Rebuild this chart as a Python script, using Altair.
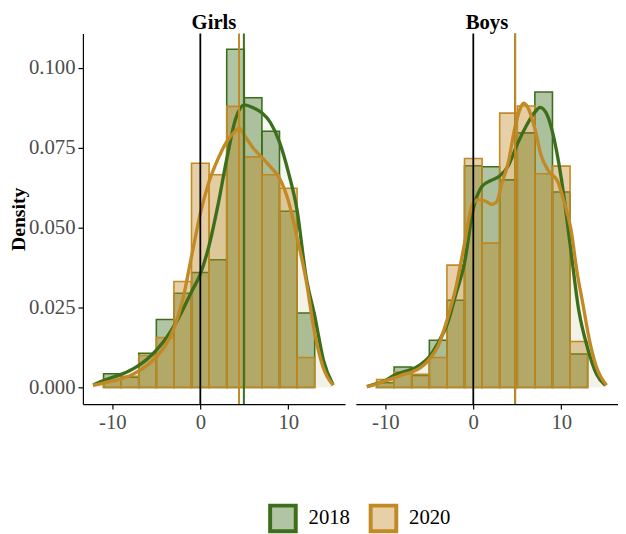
import altair as alt
import pandas as pd

# ---------------- data ----------------
panels = ["Girls", "Boys"]
years = ["2018", "2020"]
dark_colors = ["#3D6E1C", "#C28A25"]
light_colors = ["#B1C5A4", "#E7D0A8"]   # the dark colours at 40 % on white (legend swatches)

bin_starts = [-11, -9, -7, -5, -3, -1, 1, 3, 5, 7, 9, 11]
bin_ends = [-9, -7, -5, -3, -1, 1, 3, 5, 7, 9, 11, 13]

girls_hist_2018 = [0.0043, 0.0032, 0.0107, 0.0213, 0.0295, 0.0360, 0.0400, 0.1059, 0.0907, 0.0802, 0.0552, 0.0233]
girls_hist_2020 = [0.0025, 0.0035, 0.0100, 0.0156, 0.0332, 0.0702, 0.0666, 0.0880, 0.0722, 0.0666, 0.0624, 0.0094]
boys_hist_2018 = [0.0015, 0.0064, 0.0038, 0.0148, 0.0273, 0.0694, 0.0691, 0.0650, 0.0797, 0.0925, 0.0612, 0.0105]
boys_hist_2020 = [0.0025, 0.0048, 0.0041, 0.0094, 0.0383, 0.0717, 0.0452, 0.0859, 0.0881, 0.0669, 0.0693, 0.0144]

girls_dens_2018_x = [-12.2, -11, -10, -9, -8, -7, -6, -5, -4, -3, -2, -1, 0, 1, 2, 3, 4, 5, 6, 7, 8, 9, 10, 11, 12, 13, 14, 15.1]
girls_dens_2018_y = [0.0008, 0.0022, 0.0032, 0.0041, 0.0053, 0.0069, 0.0090, 0.0117, 0.0150, 0.0192, 0.0243, 0.0300, 0.0355,
                     0.0445, 0.0570, 0.0715, 0.0840, 0.0885, 0.0876, 0.0860, 0.0828, 0.0768, 0.0675, 0.0555, 0.0350,
                     0.0225, 0.0085, 0.0008]
girls_dens_2020_x = [-12.2, -11, -10, -9, -8, -7, -6, -5, -4, -3, -2, -1, 0, 1, 2, 3, 4, 4.4, 5, 6, 7, 8, 9, 10, 11, 12, 13, 14, 15.1]
girls_dens_2020_y = [0.0007, 0.0014, 0.0020, 0.0027, 0.0037, 0.0052, 0.0070, 0.0096, 0.0130, 0.0185, 0.0275, 0.0410, 0.0545,
                     0.0645, 0.0715, 0.0770, 0.0803, 0.0812, 0.0790, 0.0750, 0.0720, 0.0690, 0.0655, 0.0585, 0.0470,
                     0.0340, 0.0170, 0.0060, 0.0007]
boys_dens_2018_x = [-12.1, -11, -10, -9, -8, -7, -6, -5, -4, -3, -2, -1, 0, 1, 2, 3, 4, 5, 6, 7, 7.6, 8.4, 9, 10, 11, 12, 13, 14, 15]
boys_dens_2018_y = [0.0003, 0.0012, 0.0022, 0.0038, 0.0048, 0.0057, 0.0072, 0.0096, 0.0140, 0.0196, 0.0290, 0.0390, 0.0560,
                    0.0630, 0.0648, 0.0662, 0.0695, 0.0762, 0.0818, 0.0862, 0.0877, 0.0853, 0.0800, 0.0655, 0.0450,
                    0.0240, 0.0123, 0.0042, 0.0007]
boys_dens_2020_x = [-12.1, -11, -10, -9, -8, -7, -6, -5, -4, -3, -2, -1, -0.1, 0.6, 1.4, 2.1, 2.7, 3.2, 4, 4.7, 5.3, 5.7, 6.2,
                    7, 7.7, 8.6, 9.6, 10.3, 11.1, 11.8, 12.4, 13.3, 14, 15.15]
boys_dens_2020_y = [0.0003, 0.0011, 0.0021, 0.0030, 0.0040, 0.0048, 0.0062, 0.0088, 0.0130, 0.0210, 0.0310, 0.0450, 0.0573,
                    0.0588, 0.0583, 0.0573, 0.0583, 0.0635, 0.0707, 0.0810, 0.0871, 0.0890, 0.0877, 0.0810, 0.0727,
                    0.0676, 0.0645, 0.0583, 0.0495, 0.0360, 0.0270, 0.0136, 0.0064, 0.0007]

girls_means = [4.95, 4.4]
boys_means = [4.75, 4.76]
reference_x = [0]

x_ticks = [-10, 0, 10]
y_ticks = [0, 0.025, 0.05, 0.075, 0.1]

# ---------------- chart ----------------
FONT = "Liberation Serif"
x_scale = alt.Scale(domain=[-13.35, 16.45], nice=False, zero=False)
y_scale = alt.Scale(domain=[-0.0052, 0.1108], nice=False, zero=False)


def make_panel(name, hists, dens, means, show_y, with_legend):
    x_axis = alt.Axis(values=x_ticks, title=None, labelExpr="'' + datum.value")
    y_axis = alt.Axis(values=y_ticks, format=".3f", title="Density") if show_y else None

    def xq(field):
        return alt.X(field, scale=x_scale, axis=x_axis)

    def yq(field):
        return alt.Y(field, scale=y_scale, axis=y_axis)

    layers = []
    for yr, h, col in zip(years, hists, dark_colors):
        df = pd.DataFrame({"start": bin_starts, "end": bin_ends, "density": h})
        layers.append(alt.Chart(df).mark_bar(color=col, fillOpacity=0.4, stroke=col, strokeWidth=1.6).encode(
            x=xq("start:Q"), x2="end:Q", y=yq("density:Q"), y2=alt.datum(0)))
    areas, lines, rules = [], [], []
    for (dx, dy), col, m in zip(dens, dark_colors, means):
        df = pd.DataFrame({"x": dx, "density": dy})
        areas.append(alt.Chart(df).mark_area(color=col, fillOpacity=0.05, interpolate="monotone").encode(
            x=xq("x:Q"), y=yq("density:Q"), y2=alt.datum(0)))
        lines.append(alt.Chart(df).mark_line(color=col, strokeWidth=3.4, interpolate="monotone").encode(
            x=xq("x:Q"), y=yq("density:Q")))
        rules.append(alt.Chart(pd.DataFrame({"m": [m]})).mark_rule(color=col, strokeWidth=2).encode(
            x=xq("m:Q")))
    zero = alt.Chart(pd.DataFrame({"r": reference_x})).mark_rule(color="black", strokeWidth=1.8).encode(
        x=xq("r:Q"))
    layers += areas + lines + rules + [zero]
    if with_legend:
        key = alt.Chart(pd.DataFrame({"year": years})).mark_square().encode(
            fill=alt.Fill("year:N", scale=alt.Scale(domain=years, range=light_colors), legend=alt.Legend(title=None)),
            stroke=alt.Stroke("year:N", scale=alt.Scale(domain=years, range=dark_colors), legend=alt.Legend(title=None)),
            opacity=alt.value(0),
            size=alt.value(0),
        )
        layers.append(key)
    return alt.layer(*layers).properties(
        width=266, height=376,
        title=alt.Title(name, font=FONT, fontSize=21, fontWeight="bold", color="black", offset=0),
    )


girls = make_panel(
    "Girls", [girls_hist_2018, girls_hist_2020],
    [(girls_dens_2018_x, girls_dens_2018_y), (girls_dens_2020_x, girls_dens_2020_y)],
    girls_means, True, True)
boys = make_panel(
    "Boys", [boys_hist_2018, boys_hist_2020],
    [(boys_dens_2018_x, boys_dens_2018_y), (boys_dens_2020_x, boys_dens_2020_y)],
    boys_means, False, False)

chart = alt.hconcat(girls, boys, spacing=11).properties(
    padding={"left": 0, "top": 0, "right": 0, "bottom": 0}
).configure_view(stroke=None).configure_axis(
    grid=False, domainColor="black", domainWidth=1.2, tickColor="black", tickWidth=1.2, tickSize=5,
    labelFont=FONT, labelFontSize=21, labelColor="#4D4D4D", labelPadding=3,
    titleFont=FONT, titleFontSize=20, titleFontWeight="bold", titleColor="black", titlePadding=0,
).configure_legend(
    orient="none", legendX=188, legendY=477, direction="horizontal",
    labelFont=FONT, labelFontSize=21, labelColor="black", labelOffset=11,
    symbolType="square", symbolSize=676, symbolStrokeWidth=4, symbolOpacity=1, columnPadding=13,
)

chart.save("out.html", embed_options={"renderer": "svg", "actions": False})
